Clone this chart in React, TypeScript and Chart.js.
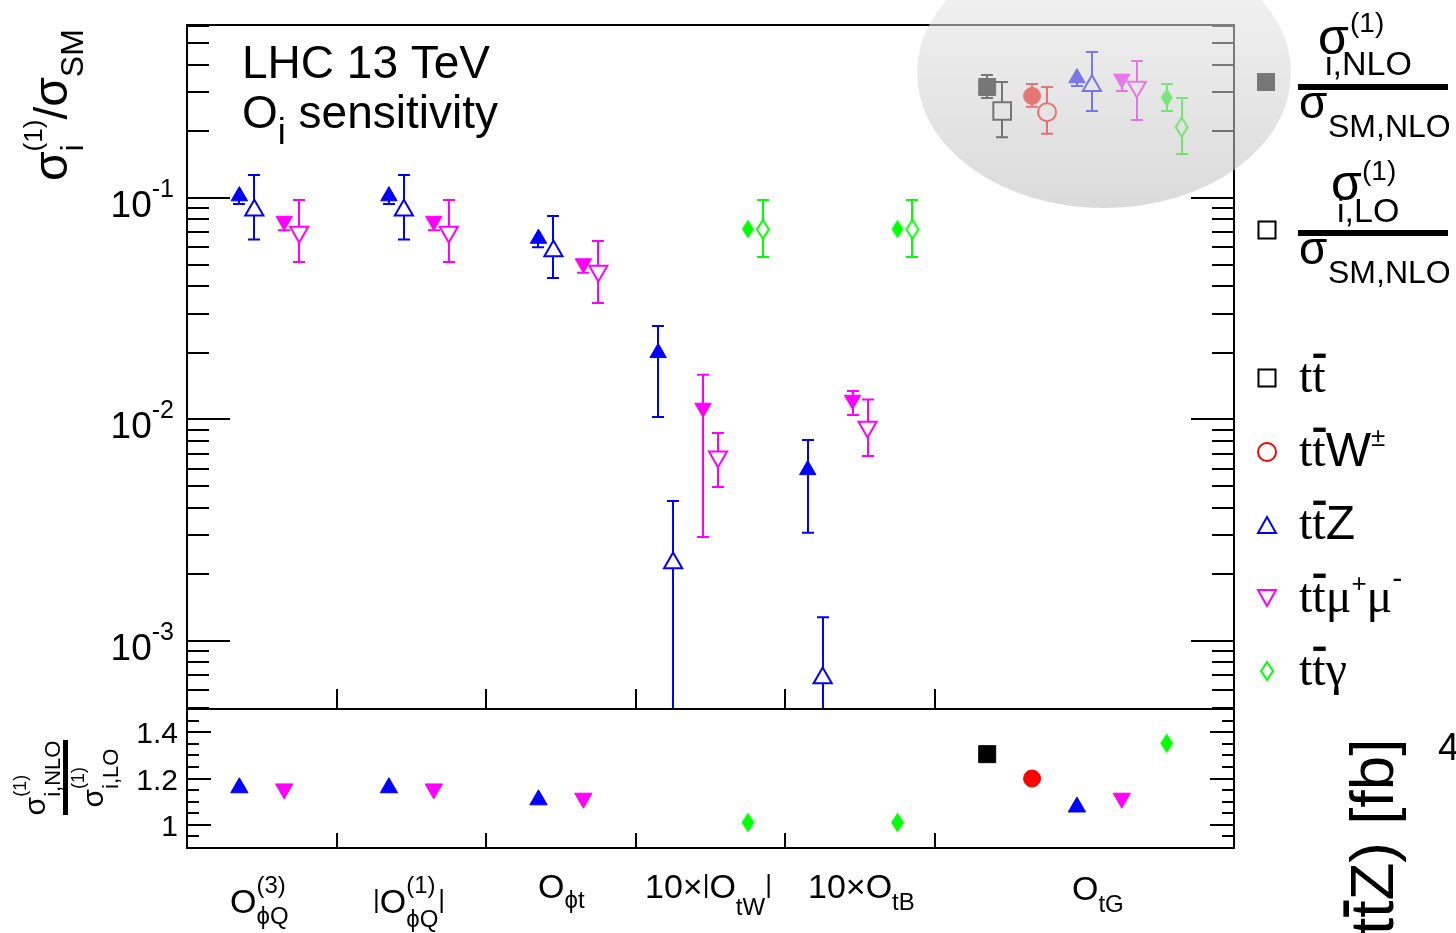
import React, { useEffect, useRef } from 'react';
import { Chart, registerables } from 'chart.js';

Chart.register(...registerables);

const W = 1456;
const H = 933;
const SANS = '"Liberation Sans", Arimo, Arial, sans-serif';
const SERIF = '"Liberation Serif", Tinos, "Times New Roman", serif';

// ---------------- data ----------------
const OPERATORS = ['O_ϕQ^(3)', '|O_ϕQ^(1)|', 'O_ϕt', '10×|O_tW|', '10×O_tB', 'O_tG'];
const GROUP_EDGES = [0, 1, 2, 3, 4, 5, 7];
const X_RANGE = [0, 7];
const Y_RANGE = [4.93e-4, 0.604];
const K_RANGE = [0.9, 1.5];
const Y_MAJOR = [1e-3, 1e-2, 1e-1];
const Y_MAJOR_EXP = ['-3', '-2', '-1'];
const K_MAJOR = [1, 1.2, 1.4];
const K_MAJOR_LABELS = ['1', '1.2', '1.4'];

// x (operator units) of each process' NLO point; LO point is shifted by LO_SHIFT
const X_TT = [null, null, null, null, null, 5.35];
const X_TTW = [null, null, null, null, null, 5.65];
const X_TTZ = [0.35, 1.35, 2.35, 3.15, 4.15, 5.95];
const X_TTMM = [0.65, 1.65, 2.65, 3.45, 4.45, 6.25];
const X_TTA = [null, null, null, 3.75, 4.75, 6.55];
const LO_SHIFT = 0.1;

// sigma_i^(1)/sigma_SM : value, lower and upper error edge
const TT_NLO = [null, null, null, null, null, 0.317];
const TT_NLO_DN = [null, null, null, null, null, 0.283];
const TT_NLO_UP = [null, null, null, null, null, 0.359];
const TT_LO = [null, null, null, null, null, 0.247];
const TT_LO_DN = [null, null, null, null, null, 0.188];
const TT_LO_UP = [null, null, null, null, null, 0.334];

const TTW_NLO = [null, null, null, null, null, 0.289];
const TTW_NLO_DN = [null, null, null, null, null, 0.258];
const TTW_NLO_UP = [null, null, null, null, null, 0.327];
const TTW_LO = [null, null, null, null, null, 0.244];
const TTW_LO_DN = [null, null, null, null, null, 0.195];
const TTW_LO_UP = [null, null, null, null, null, 0.317];

const TTZ_NLO = [0.102, 0.102, 0.0656, 0.02, 0.00592, 0.348];
const TTZ_NLO_DN = [0.094, 0.094, 0.06, 0.01026, 0.00308, 0.32];
const TTZ_NLO_UP = [0.102, 0.102, 0.0656, 0.0264, 0.00807, 0.348];
const TTZ_LO = [0.088, 0.088, 0.0577, 0.00225, 0.00068, 0.321];
const TTZ_LO_DN = [0.065, 0.065, 0.0435, 0.0001, 0.0001, 0.247];
const TTZ_LO_UP = [0.127, 0.127, 0.083, 0.00428, 0.00128, 0.456];

const TTMM_NLO = [0.0787, 0.0787, 0.0506, 0.01127, 0.01225, 0.345];
const TTMM_NLO_DN = [0.0715, 0.0715, 0.046, 0.00295, 0.01047, 0.304];
const TTMM_NLO_UP = [0.0787, 0.0787, 0.0506, 0.0159, 0.01346, 0.345];
const TTMM_LO = [0.0703, 0.0703, 0.0468, 0.00678, 0.00925, 0.317];
const TTMM_LO_DN = [0.0514, 0.0514, 0.0336, 0.00496, 0.00684, 0.225];
const TTMM_LO_UP = [0.098, 0.098, 0.064, 0.00869, 0.0123, 0.415];

const TTA_NLO = [null, null, null, 0.0724, 0.0724, 0.284];
const TTA_NLO_DN = [null, null, null, 0.0724, 0.0724, 0.247];
const TTA_NLO_UP = [null, null, null, 0.0724, 0.0724, 0.327];
const TTA_LO = [null, null, null, 0.0722, 0.0722, 0.209];
const TTA_LO_DN = [null, null, null, 0.0542, 0.0542, 0.158];
const TTA_LO_UP = [null, null, null, 0.098, 0.098, 0.283];

// K-factors sigma_i,NLO^(1) / sigma_i,LO^(1)
const TT_K = [null, null, null, null, null, 1.305];
const TTW_K = [null, null, null, null, null, 1.2];
const TTZ_K = [1.16, 1.16, 1.108, null, null, 1.077];
const TTMM_K = [1.155, 1.155, 1.115, null, null, 1.115];
const TTA_K = [null, null, null, 1.01, 1.01, 1.352];

// ---------------- colours ----------------
const BLACK = '#000000';
const RED = '#ff0000';
const BLUE = '#0000ff';
const MAGENTA = '#ff00ff';
const GREEN = '#00ff00';

// ---------------- helpers ----------------
type Part = { t: string; size: number; dy?: number; family?: string; over?: boolean; stack?: boolean };

function fontOf(p: Part) {
  return `${p.size}px ${p.family || SANS}`;
}

function layoutParts(ctx: CanvasRenderingContext2D, parts: Part[]) {
  let x = 0;
  let prevStart = 0;
  let prevW = 0;
  const pos: number[] = [];
  const widths: number[] = [];
  for (const p of parts) {
    ctx.font = fontOf(p);
    const w = ctx.measureText(p.t).width;
    widths.push(w);
    if (p.stack) {
      pos.push(prevStart);
      const adv = Math.max(prevW, w);
      x = prevStart + adv;
      prevW = adv;
    } else {
      pos.push(x);
      prevStart = x;
      prevW = w;
      x += w;
    }
  }
  return { pos, widths, width: x };
}

function drawRich(ctx: CanvasRenderingContext2D, x: number, y: number, parts: Part[], align = 'left', color = '#000') {
  const { pos, widths, width } = layoutParts(ctx, parts);
  const x0 = align === 'left' ? x : align === 'right' ? x - width : x - width / 2;
  ctx.fillStyle = color;
  ctx.textBaseline = 'alphabetic';
  ctx.textAlign = 'left';
  parts.forEach((p, i) => {
    ctx.font = fontOf(p);
    const bx = x0 + pos[i];
    const by = y + (p.dy || 0);
    ctx.fillText(p.t, bx, by);
    if (p.over) {
      ctx.fillRect(bx + 1, by - p.size * 0.8, widths[i] - 1, Math.max(2, p.size * 0.09));
    }
  });
}

function sel(xs: (number | null)[], ys: (number | null)[], arr: (number | null)[]) {
  const out: number[] = [];
  xs.forEach((x, i) => {
    if (x != null && ys[i] != null) out.push(arr[i] as number);
  });
  return out;
}

function pts(xs: (number | null)[], ys: (number | null)[], shift = 0) {
  const out: { x: number; y: number }[] = [];
  xs.forEach((x, i) => {
    if (x != null && ys[i] != null) out.push({ x: (x as number) + shift, y: ys[i] as number });
  });
  return out;
}

function makeDiamond(w: number, h: number, fill: string, stroke: string | null, lw: number) {
  const c = document.createElement('canvas');
  c.width = w + 4;
  c.height = h + 4;
  const g = c.getContext('2d') as CanvasRenderingContext2D;
  const cx = c.width / 2;
  const cy = c.height / 2;
  g.beginPath();
  g.moveTo(cx, cy - h / 2);
  g.lineTo(cx + w / 2, cy);
  g.lineTo(cx, cy + h / 2);
  g.lineTo(cx - w / 2, cy);
  g.closePath();
  g.fillStyle = fill;
  g.fill();
  if (stroke) {
    g.strokeStyle = stroke;
    g.lineWidth = lw;
    g.stroke();
  }
  return c;
}

function markerPath(ctx: CanvasRenderingContext2D, shape: string, cx: number, cy: number, w: number, h: number) {
  ctx.beginPath();
  if (shape === 'square') {
    ctx.rect(cx - w / 2, cy - h / 2, w, h);
  } else if (shape === 'circle') {
    ctx.arc(cx, cy, w / 2, 0, Math.PI * 2);
  } else if (shape === 'up') {
    ctx.moveTo(cx, cy - h / 2);
    ctx.lineTo(cx + w / 2, cy + h / 2);
    ctx.lineTo(cx - w / 2, cy + h / 2);
    ctx.closePath();
  } else if (shape === 'down') {
    ctx.moveTo(cx, cy + h / 2);
    ctx.lineTo(cx + w / 2, cy - h / 2);
    ctx.lineTo(cx - w / 2, cy - h / 2);
    ctx.closePath();
  } else if (shape === 'diamond') {
    ctx.moveTo(cx, cy - h / 2);
    ctx.lineTo(cx + w / 2, cy);
    ctx.lineTo(cx, cy + h / 2);
    ctx.lineTo(cx - w / 2, cy);
    ctx.closePath();
  }
}

const errorBarPlugin = {
  id: 'errorBars',
  beforeDatasetsDraw(chart: any) {
    const { ctx, chartArea: a } = chart;
    const xs = chart.scales.x;
    const ys = chart.scales.y;
    ctx.save();
    ctx.beginPath();
    ctx.rect(a.left, a.top, a.right - a.left, a.bottom - a.top);
    ctx.clip();
    chart.data.datasets.forEach((ds: any) => {
      if (!ds.errLo) return;
      ctx.strokeStyle = ds.borderColor;
      ctx.lineWidth = 2;
      ds.data.forEach((p: any, i: number) => {
        const px = Math.round(xs.getPixelForValue(p.x));
        const yc = ys.getPixelForValue(p.y);
        const y1 = ys.getPixelForValue(ds.errLo[i]);
        const y2 = ys.getPixelForValue(ds.errHi[i]);
        ctx.beginPath();
        ctx.moveTo(px, y1);
        ctx.lineTo(px, y2);
        if (Math.abs(y1 - yc) > 4) {
          ctx.moveTo(px - 6, y1);
          ctx.lineTo(px + 6, y1);
        }
        if (Math.abs(y2 - yc) > 4) {
          ctx.moveTo(px - 6, y2);
          ctx.lineTo(px + 6, y2);
        }
        ctx.stroke();
      });
    });
    ctx.restore();
  },
};

function hline(ctx: CanvasRenderingContext2D, x1: number, x2: number, y: number) {
  ctx.beginPath();
  ctx.moveTo(x1, y);
  ctx.lineTo(x2, y);
  ctx.stroke();
}
function vline(ctx: CanvasRenderingContext2D, x: number, y1: number, y2: number) {
  ctx.beginPath();
  ctx.moveTo(x, y1);
  ctx.lineTo(x, y2);
  ctx.stroke();
}

const mainDecorPlugin = {
  id: 'mainDecor',
  afterDraw(chart: any) {
    const { ctx, chartArea: a } = chart;
    const xs = chart.scales.x;
    const ys = chart.scales.y;
    ctx.save();
    ctx.strokeStyle = BLACK;
    ctx.lineWidth = 2;
    ctx.strokeRect(a.left, a.top, a.right - a.left, a.bottom - a.top);

    // y ticks (inside, both sides)
    for (let d = -4; d <= -1; d++) {
      for (let m = 1; m <= 9; m++) {
        const v = m * Math.pow(10, d);
        if (v < Y_RANGE[0] || v > Y_RANGE[1]) continue;
        const py = Math.round(ys.getPixelForValue(v));
        const len = m === 1 ? 43 : 22;
        hline(ctx, a.left, a.left + len, py);
        hline(ctx, a.right - len, a.right, py);
      }
    }
    // x ticks at operator boundaries
    GROUP_EDGES.slice(1, -1).forEach((e) => {
      const px = Math.round(xs.getPixelForValue(e));
      vline(ctx, px, a.bottom, a.bottom - 20);
    });

    // y tick labels
    Y_MAJOR.forEach((v, i) => {
      const py = ys.getPixelForValue(v);
      drawRich(ctx, 174, py + 19, [
        { t: '10', size: 37 },
        { t: Y_MAJOR_EXP[i], size: 25, dy: -20 },
      ], 'right');
    });

    // y title (rotated)
    ctx.save();
    ctx.translate(67, 181);
    ctx.rotate(-Math.PI / 2);
    drawRich(ctx, 0, 0, [
      { t: 'σ', size: 48 },
      { t: '(1)', size: 26, dy: -25 },
      { t: 'i', size: 32, dy: 16, stack: true },
      { t: '/', size: 46 },
      { t: 'σ', size: 48 },
      { t: 'SM', size: 32, dy: 16 },
    ]);
    ctx.restore();

    // in-plot text
    drawRich(ctx, 242, 78, [{ t: 'LHC 13 TeV', size: 46 }]);
    drawRich(ctx, 242, 128, [
      { t: 'O', size: 46 },
      { t: 'i', size: 36, dy: 16 },
      { t: ' sensitivity', size: 46 },
    ]);

    // legend: NLO / LO fractions
    ctx.fillStyle = BLACK;
    markerPath(ctx, 'square', 1266, 82, 18, 18);
    ctx.fill();
    ctx.lineWidth = 2;
    ctx.strokeStyle = BLACK;
    ctx.fillStyle = '#fff';
    markerPath(ctx, 'square', 1267, 230, 17, 17);
    ctx.fill();
    ctx.stroke();

    ctx.fillStyle = BLACK;
    drawRich(ctx, 1318, 54, [{ t: 'σ', size: 50 }]);
    drawRich(ctx, 1350, 32, [{ t: '(1)', size: 28 }]);
    drawRich(ctx, 1325, 75, [{ t: 'i,NLO', size: 34 }]);
    ctx.fillRect(1298, 84, 150, 6);
    drawRich(ctx, 1299, 118, [{ t: 'σ', size: 46 }]);
    drawRich(ctx, 1328, 137, [{ t: 'SM,NLO', size: 32 }]);

    drawRich(ctx, 1331, 200, [{ t: 'σ', size: 50 }]);
    drawRich(ctx, 1362, 180, [{ t: '(1)', size: 28 }]);
    drawRich(ctx, 1337, 222, [{ t: 'i,LO', size: 34 }]);
    ctx.fillRect(1298, 230, 150, 6);
    drawRich(ctx, 1299, 264, [{ t: 'σ', size: 46 }]);
    drawRich(ctx, 1328, 283, [{ t: 'SM,NLO', size: 32 }]);

    // legend: processes
    const entries: { shape: string; color: string; y: number; w: number; h: number; parts: Part[] }[] = [
      { shape: 'square', color: BLACK, y: 378, w: 17, h: 17, parts: [] },
      { shape: 'circle', color: RED, y: 452, w: 18, h: 18, parts: [{ t: 'W', size: 48 }, { t: '±', size: 26, dy: -20 }] },
      { shape: 'up', color: BLUE, y: 525, w: 18, h: 16, parts: [{ t: 'Z', size: 48 }] },
      {
        shape: 'down', color: MAGENTA, y: 598, w: 18, h: 16,
        parts: [
          { t: 'μ', size: 48, family: SERIF },
          { t: '+', size: 26, dy: -20 },
          { t: 'μ', size: 48, family: SERIF },
          { t: '-', size: 30, dy: -24 },
        ],
      },
      { shape: 'diamond', color: GREEN, y: 671, w: 12, h: 18, parts: [{ t: 'γ', size: 48, family: SERIF }] },
    ];
    entries.forEach((e) => {
      ctx.lineWidth = 2;
      ctx.strokeStyle = e.color;
      ctx.fillStyle = '#fff';
      markerPath(ctx, e.shape, 1267, e.y, e.w, e.h);
      ctx.fill();
      ctx.stroke();
      drawRich(ctx, 1299, e.y + 14, [
        { t: 't', size: 48, family: SERIF },
        { t: 't', size: 48, family: SERIF, over: true },
        ...e.parts,
      ]);
    });

    // fragments of the neighbouring figure at the right edge
    ctx.save();
    ctx.translate(1393, 935);
    ctx.rotate(-Math.PI / 2);
    drawRich(ctx, 0, 0, [
      { t: 't', size: 62 },
      { t: 't', size: 62, over: true },
      { t: 'Z) [fb]', size: 62 },
    ]);
    ctx.restore();
    drawRich(ctx, 1438, 760, [{ t: '4', size: 38 }]);

    // grey highlight ellipse
    ctx.beginPath();
    ctx.ellipse(1104, 73, 187, 135, 0, 0, Math.PI * 2);
    const g = ctx.createLinearGradient(0, -62, 0, 208);
    g.addColorStop(0, 'rgba(238,238,238,0.56)');
    g.addColorStop(1, 'rgba(190,190,190,0.56)');
    ctx.fillStyle = g;
    ctx.fill();
    ctx.restore();
  },
};

const ratioDecorPlugin = {
  id: 'ratioDecor',
  afterDraw(chart: any) {
    const { ctx, chartArea: a } = chart;
    const xs = chart.scales.x;
    const ys = chart.scales.y;
    ctx.save();
    ctx.strokeStyle = BLACK;
    ctx.lineWidth = 2;
    ctx.strokeRect(a.left, a.top, a.right - a.left, a.bottom - a.top);

    for (let k = Math.ceil(K_RANGE[0] / 0.05 - 1e-6); k * 0.05 <= K_RANGE[1] + 1e-9; k++) {
      const v = k * 0.05;
      const py = Math.round(ys.getPixelForValue(v));
      const major = K_MAJOR.some((m) => Math.abs(m - v) < 1e-6);
      const len = major ? 24 : 12;
      if (py <= a.top + 1 || py >= a.bottom - 1) continue;
      hline(ctx, a.left, a.left + len, py);
      hline(ctx, a.right - len, a.right, py);
    }
    GROUP_EDGES.slice(1, -1).forEach((e) => {
      const px = Math.round(xs.getPixelForValue(e));
      vline(ctx, px, a.bottom, a.bottom - 15);
    });

    K_MAJOR.forEach((v, i) => {
      const py = ys.getPixelForValue(v);
      drawRich(ctx, 178, py + 11, [{ t: K_MAJOR_LABELS[i], size: 30 }], 'right');
    });

    // rotated fraction title
    ctx.save();
    ctx.translate(0, 778);
    ctx.rotate(-Math.PI / 2);
    drawRich(ctx, 0, 45, [
      { t: 'σ', size: 30 },
      { t: '(1)', size: 18, dy: -19 },
      { t: 'i,NLO', size: 22, dy: 15, stack: true },
    ], 'center');
    ctx.fillStyle = BLACK;
    ctx.fillRect(-37, 63, 75, 5);
    drawRich(ctx, 0, 103, [
      { t: 'σ', size: 30 },
      { t: '(1)', size: 18, dy: -19 },
      { t: 'i,LO', size: 22, dy: 15, stack: true },
    ], 'center');
    ctx.restore();

    // operator labels (x axis)
    const BAR = { size: 26, dy: -5 };
    drawRich(ctx, 230, 913, [
      { t: 'O', size: 34 },
      { t: '(3)', size: 24, dy: -20 },
      { t: 'ϕQ', size: 24, dy: 11, stack: true },
    ]);
    drawRich(ctx, 373, 913, [
      { t: '|', ...BAR },
      { t: 'O', size: 34 },
      { t: '(1)', size: 24, dy: -20 },
      { t: 'ϕQ', size: 24, dy: 14, stack: true },
      { t: '|', ...BAR },
    ]);
    drawRich(ctx, 538, 898, [
      { t: 'O', size: 34 },
      { t: 'ϕt', size: 24, dy: 10 },
    ]);
    drawRich(ctx, 645, 898, [
      { t: '10×', size: 34 },
      { t: '|', ...BAR },
      { t: 'O', size: 34 },
      { t: 'tW', size: 24, dy: 17 },
      { t: '|', ...BAR },
    ]);
    drawRich(ctx, 808, 898, [
      { t: '10×O', size: 34 },
      { t: 'tB', size: 24, dy: 12 },
    ]);
    drawRich(ctx, 1072, 900, [
      { t: 'O', size: 34 },
      { t: 'tG', size: 24, dy: 12 },
    ]);
    ctx.restore();
  },
};

export default function App() {
  const mainRef = useRef<HTMLCanvasElement | null>(null);
  const ratioRef = useRef<HTMLCanvasElement | null>(null);

  useEffect(() => {
    const dFill = makeDiamond(12, 19, GREEN, null, 1);
    const dOpen = makeDiamond(12, 19, '#fff', GREEN, 2);
    const dFillR = makeDiamond(13, 20, GREEN, null, 1);

    const filled = (color: string, style: any, r: number, rot = 0) => ({
      pointStyle: style, pointRadius: r, pointRotation: rot,
      backgroundColor: color, borderColor: color, borderWidth: 1,
    });
    const open = (color: string, style: any, r: number, rot = 0) => ({
      pointStyle: style, pointRadius: r, pointRotation: rot,
      backgroundColor: '#fff', borderColor: color, borderWidth: 2,
    });
    const ds = (label: string, xs: any[], ys: any[], dn: any[], up: any[], shift: number, style: any) => ({
      label,
      data: pts(xs, ys, shift),
      errLo: sel(xs, ys, dn),
      errHi: sel(xs, ys, up),
      ...style,
    });

    const mainDatasets: any[] = [
      ds('tt NLO', X_TT, TT_NLO, TT_NLO_DN, TT_NLO_UP, 0, filled(BLACK, 'rect', 12)),
      ds('tt LO', X_TT, TT_LO, TT_LO_DN, TT_LO_UP, LO_SHIFT, open(BLACK, 'rect', 12.5)),
      ds('ttW NLO', X_TTW, TTW_NLO, TTW_NLO_DN, TTW_NLO_UP, 0, filled(RED, 'circle', 8.5)),
      ds('ttW LO', X_TTW, TTW_LO, TTW_LO_DN, TTW_LO_UP, LO_SHIFT, open(RED, 'circle', 9)),
      ds('ttZ NLO', X_TTZ, TTZ_NLO, TTZ_NLO_DN, TTZ_NLO_UP, 0, filled(BLUE, 'triangle', 9.5)),
      ds('ttZ LO', X_TTZ, TTZ_LO, TTZ_LO_DN, TTZ_LO_UP, LO_SHIFT, open(BLUE, 'triangle', 10.5)),
      ds('ttmumu NLO', X_TTMM, TTMM_NLO, TTMM_NLO_DN, TTMM_NLO_UP, 0, filled(MAGENTA, 'triangle', 9.5, 180)),
      ds('ttmumu LO', X_TTMM, TTMM_LO, TTMM_LO_DN, TTMM_LO_UP, LO_SHIFT, open(MAGENTA, 'triangle', 10.5, 180)),
      ds('ttgamma NLO', X_TTA, TTA_NLO, TTA_NLO_DN, TTA_NLO_UP, 0, filled(GREEN, dFill, 10)),
      ds('ttgamma LO', X_TTA, TTA_LO, TTA_LO_DN, TTA_LO_UP, LO_SHIFT, { ...open(GREEN, dOpen, 10), borderColor: GREEN }),
    ];

    const ratioDatasets: any[] = [
      { label: 'tt K', data: pts(X_TT, TT_K), ...filled(BLACK, 'rect', 12) },
      { label: 'ttW K', data: pts(X_TTW, TTW_K), ...filled(RED, 'circle', 8.5) },
      { label: 'ttZ K', data: pts(X_TTZ, TTZ_K), ...filled(BLUE, 'triangle', 10) },
      { label: 'ttmumu K', data: pts(X_TTMM, TTMM_K), ...filled(MAGENTA, 'triangle', 10, 180) },
      { label: 'ttgamma K', data: pts(X_TTA, TTA_K), ...filled(GREEN, dFillR, 10) },
    ];

    const common: any = {
      responsive: false,
      animation: false,
      devicePixelRatio: 1,
      events: [],
      plugins: { legend: { display: false }, tooltip: { enabled: false } },
    };

    const main = new Chart(mainRef.current as HTMLCanvasElement, {
      type: 'scatter',
      data: { datasets: mainDatasets },
      options: {
        ...common,
        layout: { padding: { left: 187, right: W - 1234, top: 25, bottom: H - 709 } },
        scales: {
          x: { type: 'linear', min: X_RANGE[0], max: X_RANGE[1], display: false },
          y: { type: 'logarithmic', min: Y_RANGE[0], max: Y_RANGE[1], display: false },
        },
      },
      plugins: [errorBarPlugin, mainDecorPlugin],
    } as any);

    const ratio = new Chart(ratioRef.current as HTMLCanvasElement, {
      type: 'scatter',
      data: { datasets: ratioDatasets },
      options: {
        ...common,
        layout: { padding: { left: 187, right: W - 1234, top: 709, bottom: H - 848 } },
        scales: {
          x: { type: 'linear', min: X_RANGE[0], max: X_RANGE[1], display: false },
          y: { type: 'linear', min: K_RANGE[0], max: K_RANGE[1], display: false },
        },
      },
      plugins: [ratioDecorPlugin],
    } as any);

    return () => {
      main.destroy();
      ratio.destroy();
    };
  }, []);

  const cstyle: React.CSSProperties = { position: 'absolute', left: 0, top: 0, width: W, height: H, display: 'block' };
  return (
    <div style={{ position: 'fixed', left: 0, top: 0, width: W, height: H, background: '#fff', overflow: 'hidden' }}>
      <canvas ref={ratioRef} width={W} height={H} style={cstyle} />
      <canvas ref={mainRef} width={W} height={H} style={cstyle} aria-label={OPERATORS.join(', ')} />
    </div>
  );
}
